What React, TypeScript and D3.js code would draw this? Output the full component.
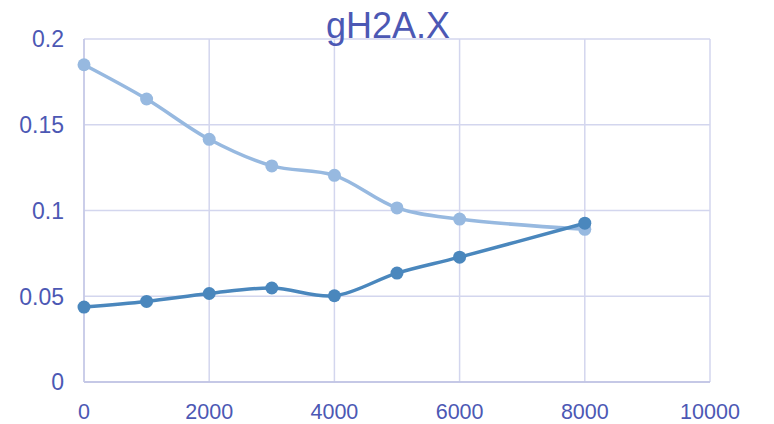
import React from "react";
import * as d3 from "d3";

const xValues = [0, 1000, 2000, 3000, 4000, 5000, 6000, 8000];
const seriesLight = [0.185, 0.165, 0.1415, 0.126, 0.1205, 0.1015, 0.095, 0.089];
const seriesDark = [0.0437, 0.047, 0.0516, 0.0548, 0.0503, 0.0635, 0.0728, 0.0926];
const xTicks = [0, 2000, 4000, 6000, 8000, 10000];
const yTicks = [0, 0.05, 0.1, 0.15, 0.2];
const title = "gH2A.X";

const W = 774;
const H = 424;
const left = 84;
const right = 710;
const top = 39;
const bottom = 382;

const textColor = "#4c58b4";
const gridColor = "#d3d6ee";
const lightColor = "#97b9e0";
const darkColor = "#4a87bd";

export default function App() {
  const x = d3.scaleLinear().domain([0, 10000]).range([left, right]);
  const y = d3.scaleLinear().domain([0, 0.2]).range([bottom, top]);
  const line = d3
    .line<[number, number]>()
    .x((d) => x(d[0]))
    .y((d) => y(d[1]))
    .curve(d3.curveCatmullRom.alpha(0.5));

  const series = [
    { values: seriesLight, color: lightColor },
    { values: seriesDark, color: darkColor },
  ];

  return (
    <svg
      width={W}
      height={H}
      style={{ position: "absolute", left: 0, top: 0, background: "#fff" }}
      fontFamily="'Liberation Sans', Arial, sans-serif"
    >
      {xTicks.map((t) => (
        <line key={"gx" + t} x1={x(t)} x2={x(t)} y1={top} y2={bottom} stroke={gridColor} strokeWidth={1.5} />
      ))}
      {yTicks.map((t) => (
        <line key={"gy" + t} x1={left} x2={right} y1={y(t)} y2={y(t)} stroke={gridColor} strokeWidth={1.5} />
      ))}
      <line x1={left} x2={right} y1={bottom} y2={bottom} stroke="#bcc0e2" strokeWidth={1.5} />
      <line x1={left} x2={left} y1={top} y2={bottom} stroke="#c4c8e6" strokeWidth={1.5} />

      {yTicks.map((t) => (
        <text key={"ly" + t} x={64} y={y(t) + 8.3} textAnchor="end" fontSize={23} fill={textColor}>
          {String(t)}
        </text>
      ))}
      {xTicks.map((t) => (
        <text key={"lx" + t} x={x(t)} y={419} textAnchor="middle" fontSize={21.5} fill={textColor}>
          {String(t)}
        </text>
      ))}

      <text x={388} y={37.5} textAnchor="middle" fontSize={36} fill={textColor}>
        {title}
      </text>

      {series.map((s, i) => {
        const pts = xValues.map((v, j) => [v, s.values[j]] as [number, number]);
        return (
          <g key={"s" + i}>
            <path d={line(pts) || ""} fill="none" stroke={s.color} strokeWidth={3.5} strokeLinecap="round" />
            {pts.map((p, j) => (
              <circle key={j} cx={x(p[0])} cy={y(p[1])} r={6.5} fill={s.color} />
            ))}
          </g>
        );
      })}
    </svg>
  );
}
